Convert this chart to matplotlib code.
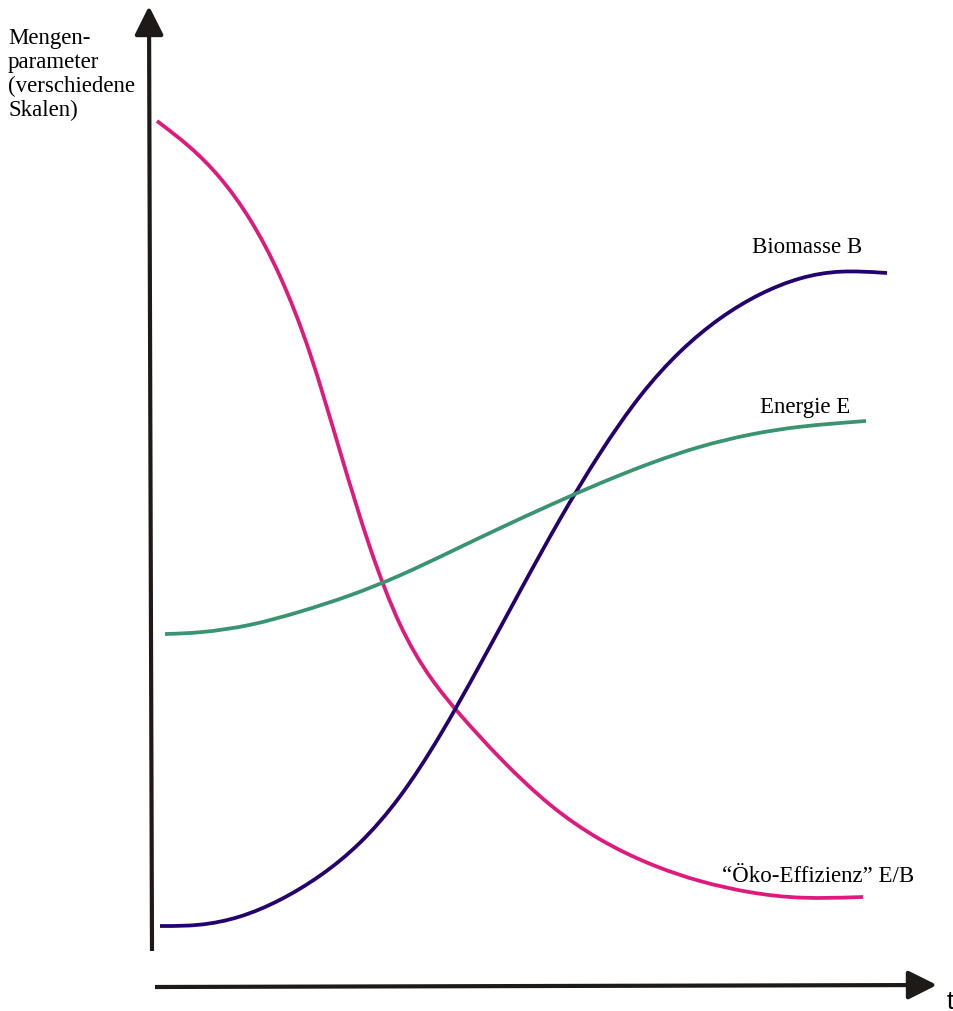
import numpy as np
import matplotlib.pyplot as plt
from matplotlib.patches import FancyArrowPatch, PathPatch
from matplotlib.path import Path

# -----------------------------
# Curve data (pixel-like units, y grows downward)
# -----------------------------
eff_t = [157, 190, 220, 250, 280, 310, 340, 370, 400, 430, 460, 500, 550, 600, 650,
         700, 750, 800, 863]
eff_v = [122, 147, 177, 218, 274, 350, 453, 552, 630, 680, 716, 760, 808, 842, 866,
         883, 894, 900, 898]

bio_t = [160, 200, 240, 280, 320, 360, 400, 440, 480, 520, 560, 600, 640, 680, 720,
         760, 800, 840, 887]
bio_v = [927, 927, 919, 902, 878, 846, 800, 738, 666, 592, 519, 453, 395, 351, 318,
         294, 278, 271, 274]

en_t = [165, 200, 250, 300, 350, 400, 450, 500, 550, 600, 650, 700, 750, 800, 866]
en_v = [635, 634, 627, 613, 597, 577, 553, 529, 506, 484, 464, 447, 435, 427, 422]

PINK = '#E0197D'
BLUE = '#24006E'
GREEN = '#3A9470'
AXIS = '#1E1A18'


def smooth_path(xs, ys):
    """Cubic B-spline over the read points (ends clamped), as Bezier segments."""
    p = np.column_stack([xs, ys]).astype(float)
    p = np.vstack([p[:1], p[:1], p, p[-1:], p[-1:]])
    verts, codes = [], []
    for i in range(len(p) - 3):
        a, b, c, d = p[i], p[i + 1], p[i + 2], p[i + 3]
        b0 = (a + 4 * b + c) / 6
        if i == 0:
            verts.append(b0)
            codes.append(Path.MOVETO)
        verts += [(2 * b + c) / 3, (b + 2 * c) / 3, (b + 4 * c + d) / 6]
        codes += [Path.CURVE4] * 3
    return Path(verts, codes)


fig = plt.figure(figsize=(9.54, 10.12), dpi=100)
ax = fig.add_axes([0, 0, 1, 1])
ax.set_xlim(0, 954)
ax.set_ylim(1012, 0)
ax.axis('off')

# curves
for xs, ys, c in [(eff_t, eff_v, PINK), (bio_t, bio_v, BLUE), (en_t, en_v, GREEN)]:
    ax.add_patch(PathPatch(smooth_path(xs, ys), facecolor='none', edgecolor=c,
                           lw=2.7, capstyle='butt', joinstyle='round'))

# axes arrows
for start, tip in [((152, 952), (149, 7)), ((155, 988), (937, 986))]:
    ax.add_patch(FancyArrowPatch(start, tip, arrowstyle='-|>', mutation_scale=44,
                                 lw=3.0, color=AXIS, shrinkA=0, shrinkB=0,
                                 capstyle='butt'))

serif = ['Liberation Serif', 'DejaVu Serif']
ax.text(8, 28, 'Mengen-\nparameter\n(verschiedene\nSkalen)', family=serif, fontsize=16.5,
        va='top', ha='left', linespacing=1.19)
ax.text(752, 247, 'Biomasse B', family=serif, fontsize=16.5, va='center', ha='left')
ax.text(760, 408, 'Energie E', family=serif, fontsize=16.5, va='center', ha='left')
ax.text(722, 877, '\u201c\u00d6ko-Effizienz\u201d E/B', family=serif, fontsize=16.5,
        va='center', ha='left')
ax.text(950, 1002, 't', family=['Liberation Sans', 'DejaVu Sans'], fontsize=18,
        va='center', ha='center')

fig.savefig('out.png', dpi=100)
